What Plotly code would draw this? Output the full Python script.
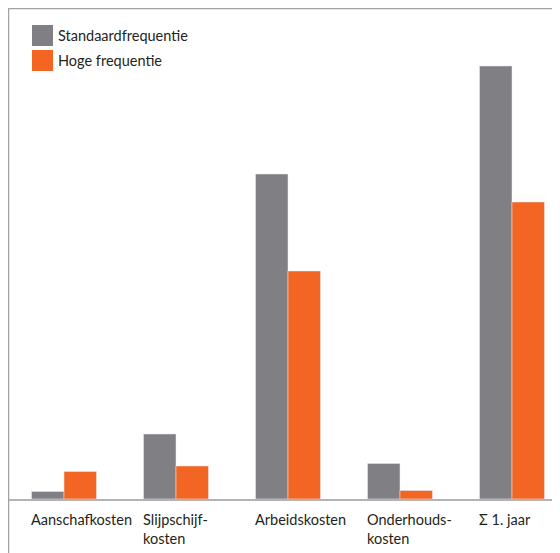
import plotly.graph_objects as go

categories = ["Aanschafkosten", "Slijpschijf-<br>kosten", "Arbeidskosten", "Onderhouds-<br>kosten", "Σ 1. jaar"]
series_names = ["Standaardfrequentie", "Hoge frequentie"]
standaard = [7.5, 65, 325, 35.5, 433]
hoog = [27.5, 33, 228, 8.5, 297]

GRAY = "#808084"
ORANGE = "#f26522"
FONT = "Lato"
FS = 14.5

x = list(range(len(categories)))
fig = go.Figure()
fig.add_trace(go.Bar(x=x, y=standaard, name=series_names[0], marker_color=GRAY, showlegend=False))
fig.add_trace(go.Bar(x=x, y=hoog, name=series_names[1], marker_color=ORANGE, showlegend=False))

W, H = 560, 553
ml, mr, mt, mb = 0, 0, 0, 62
pw = W - ml - mr
ph = H - mt - mb

fig.update_layout(
    width=W, height=H,
    margin=dict(l=ml, r=mr, t=mt, b=mb, pad=0),
    paper_bgcolor="white", plot_bgcolor="white",
    barmode="group", bargap=0.42, bargroupgap=0,
    font=dict(family=FONT, size=FS, color="#231f20"),
    xaxis=dict(range=[-0.5, 4.5], showticklabels=False, ticks="", showgrid=False,
               zeroline=False, showline=True, linecolor="#b3b3b3", linewidth=1.5),
    yaxis=dict(range=[0, 491], showticklabels=False, ticks="", showgrid=False,
               zeroline=False, showline=False),
)

# frame lines (top and left, left extends below axis)
fig.add_shape(type="line", xref="paper", yref="paper", x0=0, x1=1, y0=1, y1=1,
              line=dict(color="#a3a3a3", width=2.5))
fig.add_shape(type="line", xref="paper", yref="paper", x0=0, x1=0, y0=1, y1=-(mb + 2) / ph,
              line=dict(color="#a3a3a3", width=2.5))

# category labels, left aligned at group left edge
for i, c in enumerate(categories):
    fig.add_annotation(x=x[i], y=0, xref="x", yref="y", text=c, showarrow=False,
                       xanchor="left", yanchor="top", align="left", xshift=-35, yshift=-10,
                       font=dict(family=FONT, size=FS, color="#231f20"))

# legend
colors = [GRAY, ORANGE]
for k, name in enumerate(series_names):
    top = 17 + k * 25
    y0 = 1 - (top - mt) / ph
    y1 = 1 - (top + 21 - mt) / ph
    x0 = (24 - ml) / pw
    x1 = (45 - ml) / pw
    fig.add_shape(type="rect", xref="paper", yref="paper", x0=x0, x1=x1, y0=y1, y1=y0,
                  fillcolor=colors[k], line=dict(width=0))
    fig.add_annotation(xref="paper", yref="paper", x=(48 - ml) / pw, y=(y0 + y1) / 2,
                       text=name, showarrow=False, xanchor="left", yanchor="middle",
                       font=dict(family=FONT, size=FS, color="#231f20"))

fig.write_html("out.html")
